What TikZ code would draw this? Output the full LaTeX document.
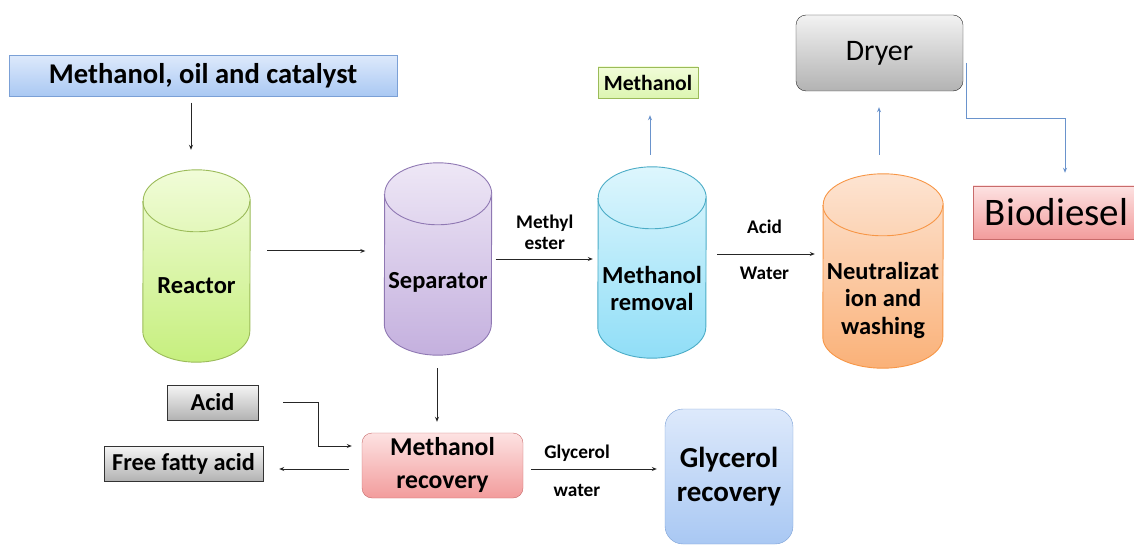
\documentclass[tikz,border=0pt]{standalone}
\usepackage{fontspec}
\setmainfont{Carlito}
\usetikzlibrary{arrows.meta}

\definecolor{feedtop}{HTML}{DDE9FB}
\definecolor{feedbot}{HTML}{A9C8F3}
\definecolor{feedline}{HTML}{7BA0D6}
\definecolor{arrowblue}{HTML}{6A93CC}
\definecolor{reactortop}{HTML}{F1FCD8}
\definecolor{reactorbot}{HTML}{C6EF7E}
\definecolor{reactorline}{HTML}{9BBB59}
\definecolor{separatortop}{HTML}{EEE7F6}
\definecolor{separatorbot}{HTML}{C4B0DE}
\definecolor{separatorline}{HTML}{8F78B3}
\definecolor{removaltop}{HTML}{DDF6FD}
\definecolor{removalbot}{HTML}{90DEF7}
\definecolor{removalline}{HTML}{4BACC6}
\definecolor{neutraltop}{HTML}{FDE4D2}
\definecolor{neutralbot}{HTML}{FAB178}
\definecolor{neutralline}{HTML}{F79646}
\definecolor{pinktop}{HTML}{FDE2E2}
\definecolor{pinkbot}{HTML}{F29C9C}
\definecolor{pinkline}{HTML}{C86B6B}

\tikzset{
  box/.style={draw, rectangle, inner sep=0pt, align=center},
  graybox/.style={box, draw=black!80, top color=black!4, bottom color=black!30, font=\bfseries\fontsize{24.3}{27}\selectfont},
  tank/.style={rectangle, inner sep=0pt},
  tanktext/.style={font=\bfseries\fontsize{24.5}{27.5}\selectfont, align=center},
  lbl/.style={font=\bfseries\fontsize{19.3}{21}\selectfont, inner sep=0pt, align=center},
  flow/.style={->, draw=black!85, line width=1pt},
  vent/.style={->, draw=arrowblue, line width=1pt},
}

\begin{document}
\begin{tikzpicture}[x=1pt, y=-1pt, >={Stealth[length=5pt,width=4pt]}]
  \useasboundingbox (0,0) rectangle (1134,545);

  % feed and the four tanks
  \node[box, draw=feedline, top color=feedtop, bottom color=feedbot,
        minimum width=388pt, minimum height=41pt,
        font=\bfseries\fontsize{28.6}{30}\selectfont] (feed) at (203,76) {Methanol, oil and catalyst};

  \node[tank, minimum width=107pt, minimum height=192pt] (reactor) at (196.5,266) {};
  \node[tank, minimum width=107pt, minimum height=192pt] (separator) at (438,259) {};
  \node[tank, minimum width=108pt, minimum height=191pt] (removal) at (652,262.5) {};
  \node[tank, minimum width=120pt, minimum height=194pt] (neutral) at (883,271) {};

  \foreach \t/\r in {reactor/53.5, separator/53.5, removal/54, neutral/60} {
    \shade[draw=\t line, top color=\t top, bottom color=\t bot, line width=0.9pt]
      ([yshift=31pt]\t.south west) arc[start angle=180, end angle=360, x radius=\r pt, y radius=31pt]
      -- ([yshift=-31pt]\t.north east) arc[start angle=0, end angle=180, x radius=\r pt, y radius=31pt]
      -- cycle;
    \draw[\t line, line width=0.9pt] ([yshift=-31pt]\t.north west)
      arc[start angle=180, end angle=360, x radius=\r pt, y radius=31pt];
  }

  \node[tanktext] (reactortext) at ([yshift=-20pt]reactor.center) {Reactor};
  \node[tanktext] (separatortext) at ([yshift=-23pt]separator.center) {Separator};
  \node[tanktext] (removaltext) at ([yshift=-26pt]removal.center) {Methanol\\removal};
  \node[tanktext] (neutraltext) at ([yshift=-29pt]neutral.center) {Neutralizat\\ion and\\washing};

  % products on top
  \node[box, draw=reactorline, top color=reactortop, bottom color=reactorbot!60,
        minimum width=100pt, minimum height=31pt,
        font=\bfseries\fontsize{21.7}{24}\selectfont] (vapour) at (648,82.5) {Methanol};
  \node[box, draw=black!85, rounded corners=10pt, top color=black!5, bottom color=black!30,
        minimum width=167pt, minimum height=76pt,
        font=\fontsize{29.8}{32}\selectfont] (dryer) at (879.5,53) {Dryer};
  \node[box, draw=pinkline, top color=pinktop, bottom color=pinkbot,
        minimum width=167pt, minimum height=53pt,
        font=\fontsize{39}{40}\selectfont] (bio) at (1056.5,212.5) {Biodiesel};

  % glycerol side
  \node[graybox, minimum width=91pt, minimum height=35pt] (acid) at (212.5,402.5) {Acid};
  \node[graybox, minimum width=159pt, minimum height=35pt] (ffa) at (183.5,463.5) {Free fatty acid};
  \node[box, draw=pinkline, rounded corners=10pt, top color=pinktop, bottom color=pinkbot,
        minimum width=161pt, minimum height=65pt,
        font=\bfseries\fontsize{25.7}{33}\selectfont] (recovery) at (442.5,465.5) {Methanol\\recovery};
  \node[box, draw=feedline, rounded corners=18pt, top color=feedtop, bottom color=feedbot,
        minimum width=128pt, minimum height=135pt,
        font=\bfseries\fontsize{29}{34}\selectfont] (glycerol) at (729,476.5) {Glycerol\\recovery};

  % connectors
  \draw[flow, shorten <=6pt, shorten >=20pt] ([xshift=-12pt]feed.south) -- ([xshift=-12pt]feed.south |- reactor.north);
  \draw[flow, shorten <=17pt, shorten >=19pt] ([yshift=15pt]reactor.east) -- ([yshift=15pt]reactor.east -| separator.west);
  \draw[flow, shorten <=4pt, shorten >=5pt] (separator.east) -- node[lbl, above=8.7pt]{Methyl\\ester} (separator.east -| removal.west);
  \draw[flow, shorten <=11pt, shorten >=8pt] ([yshift=8.5pt]removal.east) --
    node[lbl, above=20pt]{Acid} node[lbl, below=12pt]{Water} ([yshift=8.5pt]removal.east -| neutral.west);
  \draw[vent, shorten <=12pt, shorten >=17pt] ([xshift=-2pt]removal.north) -- ([xshift=-2pt]removal.north |- vapour.south);
  \draw[vent, shorten <=19pt, shorten >=16pt] ([xshift=-4pt]neutral.north) -- ([xshift=-4pt]neutral.north |- dryer.south);
  \draw[vent] ([shift={(3pt,-10pt)}]dryer.east) -- ++(0,56) -| ([shift={(8.5pt,13pt)}]bio.north);

  \draw[flow, shorten <=13pt, shorten >=11pt] ([xshift=-1pt]separator.south) -- ([xshift=-1pt]separator.south |- recovery.north);
  \draw[flow, shorten <=25pt, shorten >=10pt] (acid.east) -- ++(60,0) |- ([yshift=19.5pt]recovery.west);
  \draw[flow, shorten <=13pt, shorten >=16pt] ([yshift=-3.5pt]recovery.west) -- ([yshift=-3.5pt]recovery.west -| ffa.east);
  \draw[flow, shorten <=8pt, shorten >=8pt] ([yshift=-3.5pt]recovery.east) --
    node[lbl, pos=0.38, above=7pt]{Glycerol} node[lbl, pos=0.38, below=15pt]{water} ([yshift=-3.5pt]recovery.east -| glycerol.west);
\end{tikzpicture}
\end{document}
